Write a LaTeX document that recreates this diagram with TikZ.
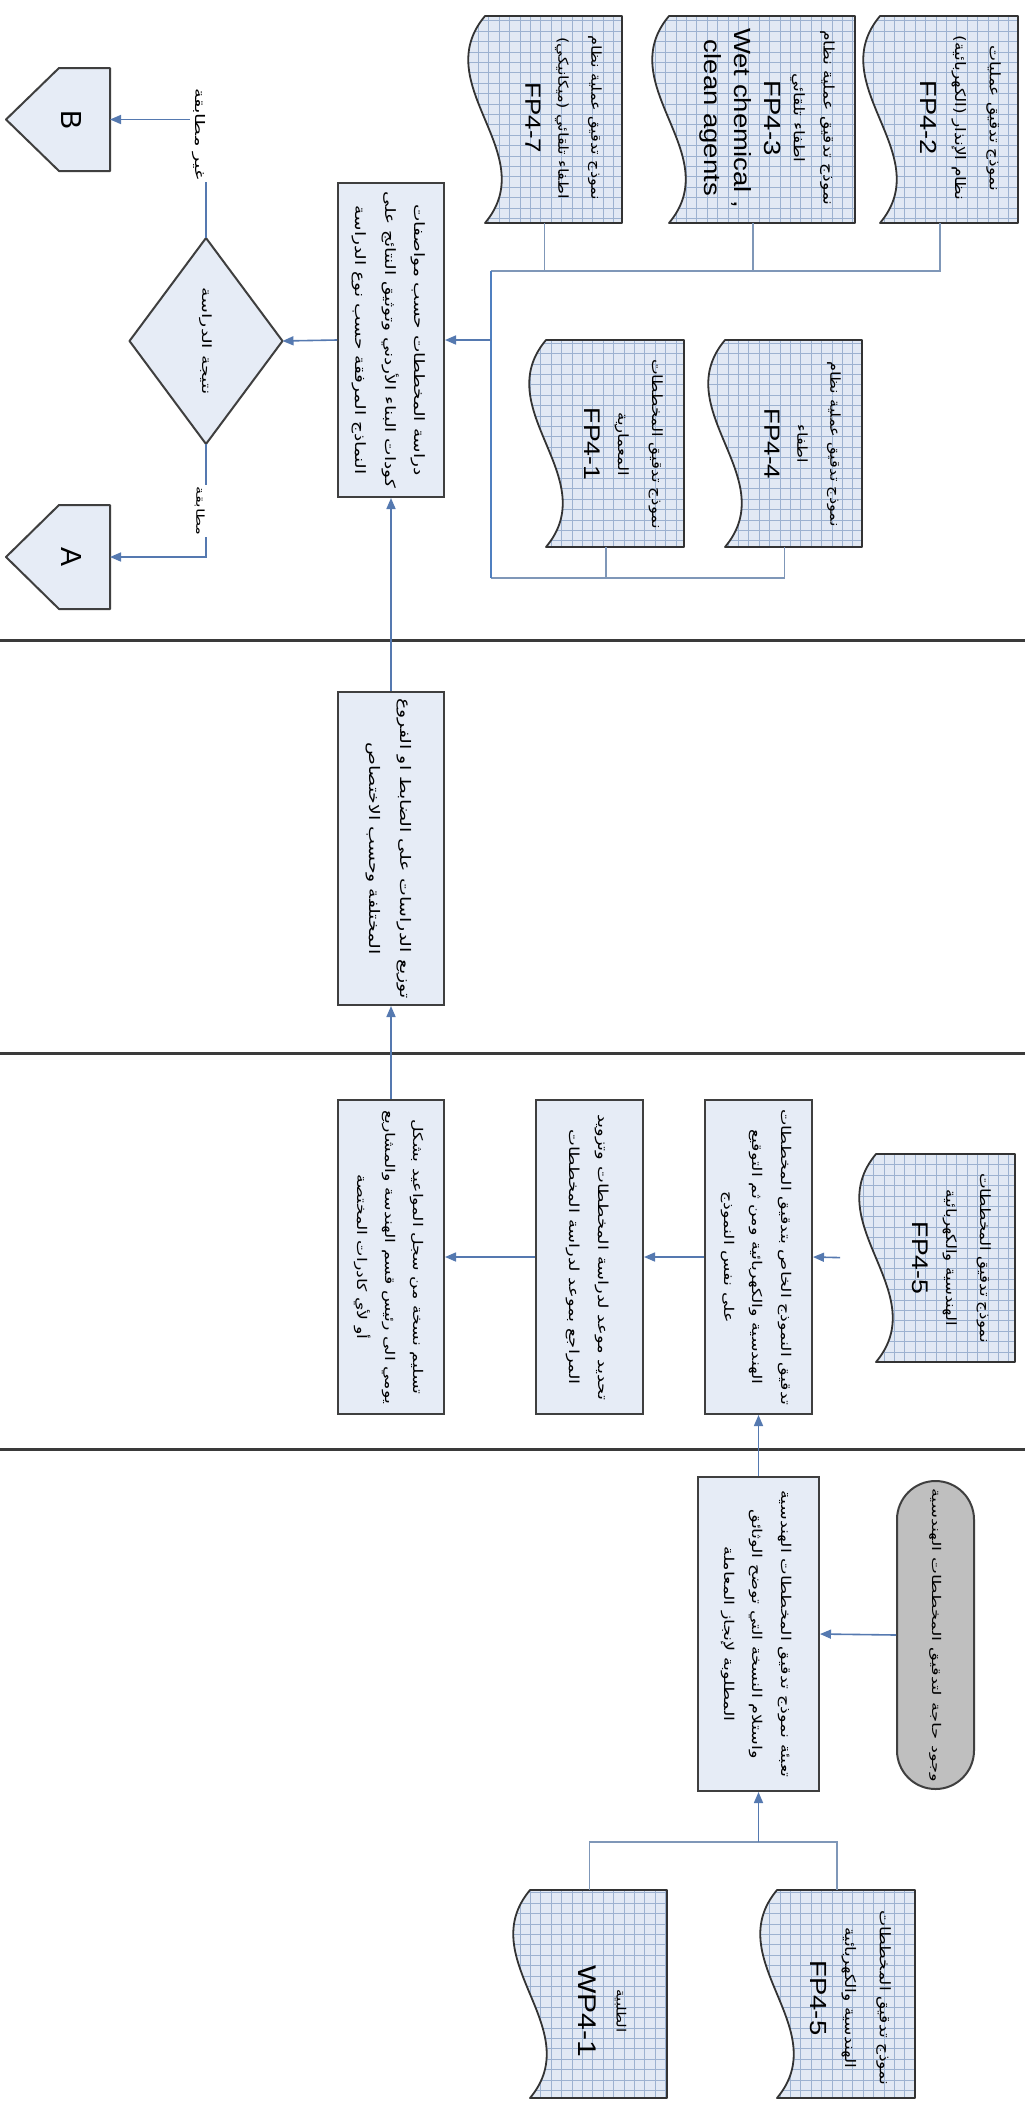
\documentclass[tikz,border=0pt]{standalone}
\usepackage{fontspec}
\usepackage{graphicx}
\setmainfont{Liberation Sans}
\newfontfamily\arabicfont[Script=Arabic]{DejaVu Sans}
\TeXXeTstate=1
\usetikzlibrary{arrows.meta}

\definecolor{boxfill}{HTML}{E6ECF6}
\definecolor{boxline}{HTML}{3F3F3F}
\definecolor{docbg}{HTML}{E2E9F4}
\definecolor{docedge}{HTML}{333333}
\definecolor{gridc}{HTML}{9DB2D0}
\definecolor{arrowc}{HTML}{5579B0}
\definecolor{connc}{HTML}{7F97B8}
\definecolor{busc}{HTML}{4F7FC0}
\definecolor{lanec}{HTML}{3A3A3A}
\definecolor{termfill}{HTML}{BFBFBF}

\newcommand\AR[2][10]{{\fontsize{#1}{#1}\selectfont\arabicfont\beginR #2\endR}}
\newcommand\LT[2][16]{{\fontsize{#1}{#1}\selectfont #2}}
% [arraystretch]{horizontal squeeze}{length along reading direction}{lines}
\newcommand\blk[4][2.2]{\scalebox{#2}[1]{\resizebox*{!}{#3pt}{\rotatebox{-90}{\def\arraystretch{#1}\begin{tabular}{@{}c@{}}#4\end{tabular}}}}}

\newcommand\docshape[5]{%
  \fill[docfill] (#2,#3) -- (#4,#3) -- (#4,#5) -- (#2,#5) .. controls ({#2+58},{#5-(#5-#3)/3}) and ({#2-58},{#3+(#5-#3)/3}) .. (#2,#3) -- cycle;
  \begin{scope}
    \clip (#2,#3) -- (#4,#3) -- (#4,#5) -- (#2,#5) .. controls ({#2+58},{#5-(#5-#3)/3}) and ({#2-58},{#3+(#5-#3)/3}) .. (#2,#3) -- cycle;
    \draw[gridline, step=10.4pt] ({#2-30},#5) grid (#4,#3);
  \end{scope}
  \draw[docline] (#2,#3) -- (#4,#3) -- (#4,#5) -- (#2,#5) .. controls ({#2+58},{#5-(#5-#3)/3}) and ({#2-58},{#3+(#5-#3)/3}) .. (#2,#3) -- cycle;
  \node[anchorbox, minimum width={(#4-#2+18)*1pt}, minimum height={(#5-#3)*1pt}] (#1) at ({(#2-18+#4)/2},{(#3+#5)/2}) {};
}

\tikzset{
  box/.style={rectangle, draw=boxline, line width=2pt, fill=boxfill, inner sep=0pt},
  anchorbox/.style={rectangle, draw=none, inner sep=0pt, outer sep=0pt},
  txt/.style={inner sep=0pt, outer sep=0pt},
  lbl/.style={inner sep=1.5pt, fill=white},
  docfill/.style={fill=docbg},
  docline/.style={draw=docedge, line width=1.8pt, line join=round},
  gridline/.style={draw=gridc, line width=0.7pt},
  arr/.style={draw=arrowc, line width=1.6pt, -{Triangle[length=11pt,width=9pt]}},
  conn/.style={draw=connc, line width=1.3pt},
  busline/.style={draw=busc, line width=2pt},
  lane/.style={draw=lanec, line width=3pt},
  shp/.style={fill=boxfill, draw=boxline, line width=2pt, line join=round},
}

\begin{document}
\begin{tikzpicture}[x=1pt,y=-1pt]
\useasboundingbox (0,0) rectangle (1025,2107);
\fill[white] (0,0) rectangle (1025,2107);

% swimlane separators
\draw[lane] (0,640) -- (1025,640);
\draw[lane] (0,1053) -- (1025,1053);
\draw[lane] (0,1449) -- (1025,1449);

% ---------- lane 4 (top) ----------
\node[box, minimum width=106pt, minimum height=314pt] (box4) at (391,340)
  {\blk[2.1]{0.77}{296}{\AR[12]{دراسة المخططات حسب مواصفات}\\ \AR[12]{كودات البناء الأردني وتوثيق النتائج على}\\ \AR[12]{النماذج المرفقة حسب نوع الدراسة}}};

\node[anchorbox, minimum width=153pt, minimum height=206pt] (dec) at (206,341) {};
\filldraw[shp] (dec.north) -- (dec.east) -- (dec.south) -- (dec.west) -- cycle;
\node[txt] (dect) at (206,341) {\blk[1]{0.67}{107}{\AR{نتيجة الدراسة}}};

\node[anchorbox, minimum width=104pt, minimum height=103pt] (pB) at (58,119.5) {};
\filldraw[shp] (6,119.5) -- (59,68) -- (110,68) -- (110,171) -- (59,171) -- cycle;
\node[txt] (pBt) at (72,120) {\resizebox*{20pt}{19pt}{\rotatebox{-90}{B}}};

\node[anchorbox, minimum width=104pt, minimum height=104pt] (pA) at (58,557) {};
\filldraw[shp] (6,557) -- (59,505) -- (110,505) -- (110,609) -- (59,609) -- cycle;
\node[txt] (pAt) at (72,557) {\resizebox*{20pt}{19pt}{\rotatebox{-90}{A}}};

\draw[arr] (box4.west) -- (dec.east);
\draw[arr] (dec.north) |- (pB.east);
\node[lbl] (lnm) at (199,134) {\blk[1]{0.67}{92}{\AR{غير مطابقة}}};
\draw[arr] (dec.south) |- (pA.east);
\node[lbl] (lm) at (199,511) {\blk[1]{0.67}{49}{\AR{مطابقة}}};

% documents lane 4
\docshape{fp47}{485}{16}{622}{223}
\docshape{fp43}{669}{16}{855}{223}
\docshape{fp42}{880}{16}{1018}{223}
\docshape{fp41}{546}{340}{684}{547}
\docshape{fp44}{725}{340}{862}{547}

\node[txt] (fp47t) at (565,118) {\blk[2.0]{0.85}{165}{\AR{نموذج تدقيق عملية نظام}\\ \AR{اطفاء تلقائي (ميكانيكي)}\\ \LT{FP4-7}}};
\node[txt] (fp43t) at (770,118) {\blk[1.7]{0.85}{180}{\AR{نموذج تدقيق عملية نظام}\\ \AR{اطفاء تلقائي}\\ \LT{FP4-3}\\ \LT{Wet chemical ,}\\ \LT{clean agents}}};
\node[txt] (fp42t) at (962,118) {\blk[2.0]{0.85}{165}{\AR{نموذج تدقيق عمليات}\\ \AR{نظام الإنذار (الكهربائية)}\\ \LT{FP4-2}}};
\node[txt] (fp44t) at (804,444) {\blk[2.0]{0.85}{165}{\AR{نموذج تدقيق عملية نظام}\\ \AR{اطفاء}\\ \LT{FP4-4}}};
\node[txt] (fp41t) at (625,444) {\blk[2.0]{0.85}{170}{\AR{نموذج تدقيق المخططات}\\ \AR{المعمارية}\\ \LT{FP4-1}}};

\coordinate (jT) at (491,271);
\coordinate (jB) at (491,578);
\coordinate (jM) at (491,340);
\draw[conn] (fp47.south) |- (jT);
\draw[conn] (fp43.south) |- (jT);
\draw[conn] (fp42.south) |- (jT);
\draw[conn] (fp41.south) |- (jB);
\draw[conn] (fp44.south) |- (jB);
\draw[busline] (jT) -- (jB);
\draw[arr] (jM) -- (box4.east);

% ---------- lane 3 ----------
\node[box, minimum width=106pt, minimum height=313pt] (box3) at (391,848.5)
  {\blk[2.1]{0.77}{300}{\AR[12]{توزيع الدراسات على الضابط او الفروع}\\ \AR[12]{المختلفة وحسب الاختصاص}}};
\draw[arr] (box3.north) -- (box4.south);

% ---------- lane 2 ----------
\node[box, minimum width=106pt, minimum height=314pt] (boxL) at (391,1257)
  {\blk[2.1]{0.77}{294}{\AR[12]{تسليم نسخة من سجل المواعيد بشكل}\\ \AR[12]{يومي الى رئيس قسم الهندسة والمشاريع}\\ \AR[12]{أو لأي كادرات المختصة}}};
\node[box, minimum width=107pt, minimum height=314pt] (boxM) at (589.5,1257)
  {\blk[2.1]{0.77}{286}{\AR[12]{تحديد موعد لدراسة المخططات وتزويد}\\ \AR[12]{المراجع بموعد لدراسة المخططات}}};
\node[box, minimum width=107pt, minimum height=314pt] (boxR) at (758.5,1257)
  {\blk[2.1]{0.77}{296}{\AR[12]{تدقيق النموذج الخاص بتدقيق المخططات}\\ \AR[12]{الهندسية والكهربائية ومن ثم التوقيع}\\ \AR[12]{على نفس النموذج}}};
\docshape{fp45a}{876}{1154}{1015}{1362}
\node[txt] (fp45at) at (953,1258) {\blk[2.0]{0.85}{170}{\AR{نموذج تدقيق المخططات}\\ \AR{الهندسية والكهربائية}\\ \LT{FP4-5}}};

\draw[arr] (boxL.north) -- (box3.south);
\draw[arr] (boxM.west) -- (boxL.east);
\draw[arr] (boxR.west) -- (boxM.east);
\draw[arr, shorten <=18pt] (fp45a.west) -- (boxR.east);

% ---------- lane 1 ----------
\node[box, minimum width=121pt, minimum height=314pt] (box1) at (758.5,1634)
  {\blk[2.1]{0.77}{287}{\AR[12]{تعبئة نموذج تدقيق المخططات الهندسية}\\ \AR[12]{واستلام النسخة التي توضح الوثائق}\\ \AR[12]{المطلوبة لإنجاز المعاملة}}};
\node[box, fill=termfill, rounded corners=38.5pt, minimum width=77pt, minimum height=308pt] (term) at (935.5,1635)
  {\blk[1]{0.67}{294}{\AR[12]{وجود حاجة لتدقيق المخططات الهندسية}}};
\draw[arr] (box1.north) -- (boxR.south);
\draw[arr] (term.west) -- (box1.east);

\docshape{wp41}{530}{1890}{667}{2098}
\docshape{fp45b}{777}{1890}{915}{2098}
\node[txt] (wp41t) at (605,2011) {\blk[2.0]{0.85}{92}{\AR[8]{الطلبية}\\ \LT{WP4-1}}};
\node[txt] (fp45bt) at (852,1998) {\blk[2.0]{0.85}{175}{\AR{نموذج تدقيق المخططات}\\ \AR{الهندسية والكهربائية}\\ \LT{FP4-5}}};

\coordinate (jL) at (758.5,1842);
\draw[conn] (wp41.north) |- (jL) -| (fp45b.north);
\draw[arr] (jL) -- (box1.south);
\end{tikzpicture}
\end{document}
